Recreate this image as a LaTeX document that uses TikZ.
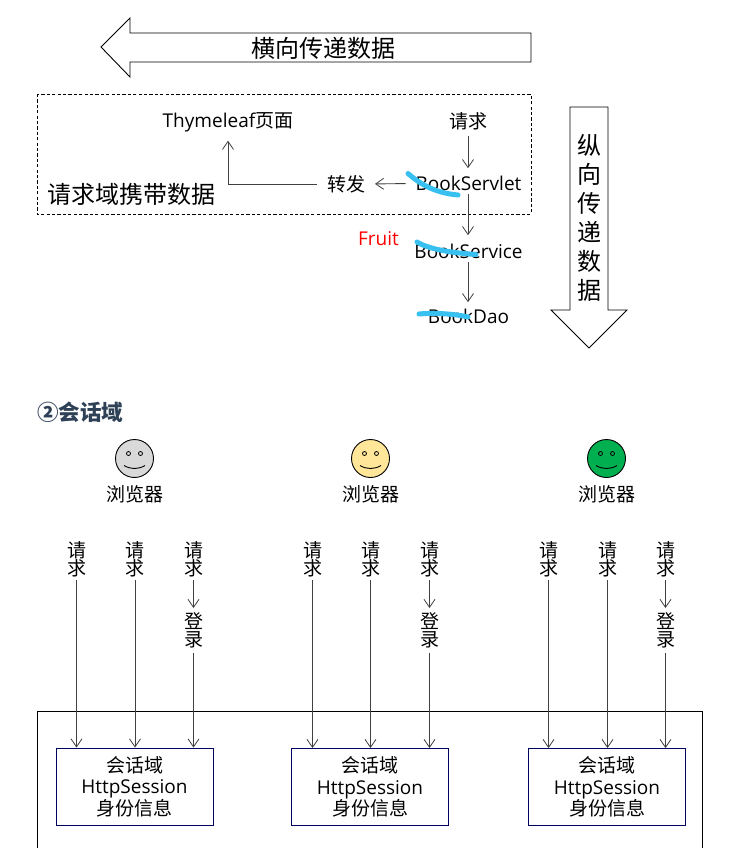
\documentclass[tikz,border=0pt]{standalone}
\usepackage{fontspec}
\setmainfont{Open Sans}
\newfontfamily\cjk{Noto Sans CJK SC}
\usetikzlibrary{arrows.meta,calc}
\definecolor{headcol}{HTML}{2F4156}
\definecolor{navybox}{HTML}{000060}
\definecolor{inkblue}{HTML}{38C0F0}
\definecolor{connector}{HTML}{404040}
\definecolor{faceyellow}{HTML}{FFE699}
\definecolor{facegreen}{HTML}{00B050}
\definecolor{facegrey}{HTML}{D9D9D9}
\tikzset{
  x=1pt,y=-1pt,
  txt/.style={inner sep=0pt,outer sep=0pt,align=center,font=\fontsize{19}{21}\selectfont\cjk},
  lat/.style={inner sep=0pt,outer sep=0pt,font=\fontsize{19}{21}\selectfont},
  vert/.style={txt,font=\fontsize{19}{17.5}\selectfont\cjk},
  conn/.style={draw=connector,line width=0.9pt,-{Straight Barb[length=8pt,width=11pt,line width=0.8pt]}},
  bigarrow/.style={draw=black,line width=0.9pt,fill=white,line join=miter},
  ink/.style={draw=inkblue,line width=5pt,line cap=round},
  face/.style={circle,draw=black,line width=0.9pt,minimum size=38pt,inner sep=0pt},
  sessionbox/.style={draw=navybox,line width=0.9pt,minimum width=157pt,minimum height=77pt,inner sep=0pt,align=center,font=\fontsize{19}{21.5}\selectfont}
}
% eyes and mouth of a face node
\newcommand{\facemarks}[1]{%
  \draw[black,line width=0.8pt] ($(#1)+(-6,-5)$) circle (2pt);
  \draw[black,line width=0.8pt] ($(#1)+(6,-5)$) circle (2pt);
  \draw[black,line width=0.9pt] ($(#1)+(-10.5,7)$) .. controls ($(#1)+(-4,11)$) and ($(#1)+(4,11)$) .. ($(#1)+(10.5,7)$);
}
\begin{document}
\begin{tikzpicture}
\useasboundingbox (0,0) rectangle (741,848);
\fill[white] (0,0) rectangle (741,848);

% horizontal and vertical block arrows
\draw[bigarrow] (531,33) -- (130,33) -- (130,18) -- (101,47) -- (130,77) -- (130,62) -- (531,62) -- cycle;
\node[txt,font=\fontsize{24}{25}\selectfont\cjk] (horiz) at (323,48) {横向传递数据};
\draw[bigarrow] (570,107) -- (608,107) -- (608,310) -- (627,310) -- (589,348) -- (551,310) -- (570,310) -- cycle;
\node[txt,font=\fontsize{24}{29}\selectfont\cjk] (vertlab) at (589,218) {纵\\向\\传\\递\\数\\据};

% request scope frame
\draw[black,line width=0.8pt,dash pattern=on 3.2pt off 2.2pt] (37,94) rectangle (531,214);
\node[txt,font=\fontsize{24}{26}\selectfont\cjk] (scope) at (131.5,194) {请求域携带数据};

\node[lat] (thyme) at (228,122) {Thymeleaf{\cjk 页面}};
\node[txt] (req) at (468,121) {请求};
\node[lat] (servlet) at (468.5,183.5) {BookServlet};
\node[txt] (fwd) at (346,184) {转发};
\node[lat] (service) at (468.5,251.5) {BookService};
\node[lat] (dao) at (468.5,316.5) {BookDao};
\node[lat,text=red] (fruit) at (378.5,239) {Fruit};

\draw[conn,shorten <=5pt,shorten >=8pt] (req) ++(0,10) -- (req.center |- servlet.north);
\draw[conn,shorten <=3pt,shorten >=9pt] (req.center |- servlet.south) -- (req.center |- service.north);
\draw[conn,shorten <=3pt,shorten >=7pt] (req.center |- service.south) -- (req.center |- dao.north);
\draw[conn,yshift=1pt,shorten <=10pt,shorten >=10pt] (servlet.west) -- (fwd.east);
\draw[conn,yshift=1pt,shorten <=10pt,shorten >=9pt] (fwd.west) -- (fwd.west -| thyme.south) -- (thyme.south);

% marker strokes across the class names
\draw[ink] (408,173.5) .. controls (420,184) and (435,193) .. (458,195);
\draw[ink] (417,242) .. controls (430,250) and (455,253) .. (476,254.5);
\draw[ink] (419,314) .. controls (435,312.5) and (455,314) .. (468,317);

% session scope heading
\node[anchor=west,inner sep=0pt,text=headcol,font=\fontsize{21.5}{24}\selectfont\cjk\bfseries] (heading) at (37,412.5) {②会话域};

% browsers
\node[face,fill=facegrey] (f1) at (134.5,458.5) {};
\node[face,fill=faceyellow] (f2) at (370.5,458.5) {};
\node[face,fill=facegreen] (f3) at (606.5,458.5) {};
\facemarks{f1}\facemarks{f2}\facemarks{f3}
\node[txt] (b1) at (134.5,494) {浏览器};
\node[txt] (b2) at (370.5,494) {浏览器};
\node[txt] (b3) at (606.5,494) {浏览器};

% server frame, open at the bottom
\draw[black,line width=0.9pt] (37,860) -- (37,711) -- (702,711) -- (702,860);

% session boxes
\node[sessionbox] (s1) at (134.5,786.5) {{\cjk 会话域}\\HttpSession\\{\cjk 身份信息}};
\node[sessionbox] (s2) at (370,787) {{\cjk 会话域}\\HttpSession\\{\cjk 身份信息}};
\node[sessionbox] (s3) at (607,787) {{\cjk 会话域}\\HttpSession\\{\cjk 身份信息}};

% three requests per browser; the third passes through the login step
\foreach \n/\s/\xa/\xb/\xc in {1/s1/76.5/135/193.5, 2/s2/312.5/370.5/429.5, 3/s3/548.5/607.5/665.5} {
  \node[vert] (ra\n) at (\xa,559.5) {请\\求};
  \node[vert] (rb\n) at (\xb,559.5) {请\\求};
  \node[vert] (rc\n) at (\xc,559.5) {请\\求};
  \node[vert] (login\n) at (\xc,630.5) {登\\录};
  \draw[conn,shorten <=3pt] (ra\n.south) -- (ra\n.south |- \s.north);
  \draw[conn,shorten <=3pt] (rb\n.south) -- (rb\n.south |- \s.north);
  \draw[conn,shorten <=3pt,shorten >=5pt] (rc\n.south) -- (login\n.north);
  \draw[conn,shorten <=5pt] (login\n.south) -- (login\n.south |- \s.north);
}
\end{tikzpicture}
\end{document}
